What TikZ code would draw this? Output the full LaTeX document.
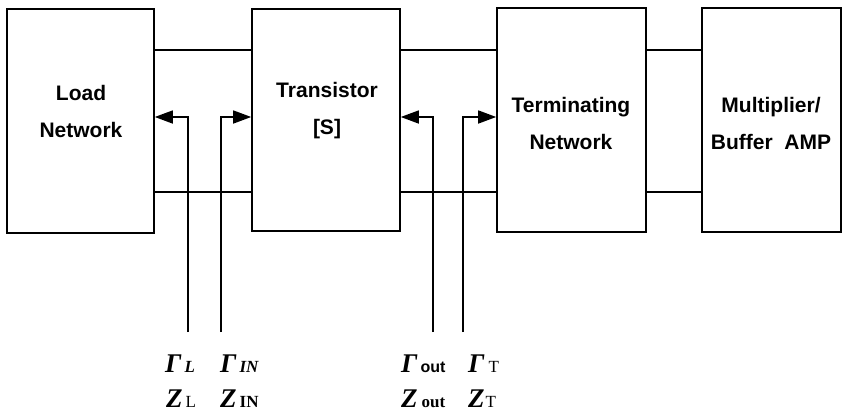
\documentclass[tikz,border=0pt]{standalone}
\usepackage{fontspec}
\setmainfont{Liberation Sans}
\newfontfamily\tms{Liberation Serif}
\newfontfamily\hv{Liberation Sans}
\usetikzlibrary{arrows.meta}
\newcommand{\subsz}{\fontsize{17}{17}\selectfont}
\begin{document}
\begin{tikzpicture}[x=1pt,y=-1pt,
  blk/.style={draw,line width=1.6pt,inner sep=0pt},
  blktxt/.style={align=center,font=\fontsize{21}{37}\selectfont\bfseries,inner sep=0pt},
  thin/.style={line width=1.1pt},
  thick/.style={line width=2pt},
  feed/.style={line width=1.5pt,-{Triangle[length=18pt,width=13pt]}},
  sym/.style={anchor=base west,inner sep=0pt,font=\tms\fontsize{27}{27}\selectfont\bfseries}
]
\useasboundingbox (0,0) rectangle (843,416);
% blocks
\node[blk,minimum width=147pt,minimum height=224pt] (load) at (80.5,121) {};
\node[blk,minimum width=148pt,minimum height=222pt] (tr) at (326,120) {};
\node[blk,minimum width=149pt,minimum height=224pt] (term) at (571.5,120) {};
\node[blk,minimum width=139pt,minimum height=224pt] (mult) at (771.5,120) {};
% block texts
\node[blktxt] (loadt) at (81,111) {Load\\Network};
\node[blktxt] (trt) at (327,111) {Transistor\\{[S]}};
\node[blktxt] (termt) at (571,123) {Terminating\\Network};
\node[blktxt] (multt) at (771,123) {Multiplier/\\Buffer\ \ AMP};
% levels
\coordinate (ytop) at (0,50);
\coordinate (ybot) at (0,192);
\coordinate (yarr) at (0,117);
% interconnections
\draw[thin] (load.east |- ytop) -- (tr.west |- ytop);
\draw[thick] (load.east |- ybot) -- (tr.west |- ybot);
\draw[thin] (tr.east |- ytop) -- (term.west |- ytop);
\draw[thick] (tr.east |- ybot) -- (term.west |- ybot);
\draw[thin] (term.east |- ytop) -- (mult.west |- ytop);
\draw[thin] (term.east |- ybot) -- (mult.west |- ybot);
% reference planes
\coordinate (gL) at (188,332);
\coordinate (gIN) at (221,332);
\coordinate (gOUT) at (433,332);
\coordinate (gT) at (463,332);
\draw[feed] (gL) |- (load.east |- yarr);
\draw[feed] (gIN) |- (tr.west |- yarr);
\draw[feed] (gOUT) |- (tr.east |- yarr);
\draw[feed] (gT) |- (term.west |- yarr);
% labels
\node[sym] (lgl) at (165,372) {\itshape Γ\hspace{3pt}\subsz L};
\node[sym] (lgin) at (220,372) {\itshape Γ\hspace{3pt}\subsz IN};
\node[sym] (lgout) at (401,372) {\itshape Γ\hspace{3pt}\hv\upshape\bfseries\fontsize{16}{16}\selectfont out};
\node[sym] (lgt) at (468,372) {\itshape Γ\hspace{4pt}\subsz\upshape\mdseries T};
\node[sym] (lzl) at (166,407) {\itshape Z\hspace{3pt}\subsz\upshape\mdseries L};
\node[sym] (lzin) at (220,407) {\itshape Z\hspace{3pt}\subsz\upshape IN};
\node[sym] (lzout) at (401,407) {\itshape Z\hspace{4pt}\subsz\upshape out};
\node[sym] (lzt) at (468,407) {\itshape Z\hspace{1pt}\subsz\upshape\mdseries T};
\end{tikzpicture}
\end{document}
